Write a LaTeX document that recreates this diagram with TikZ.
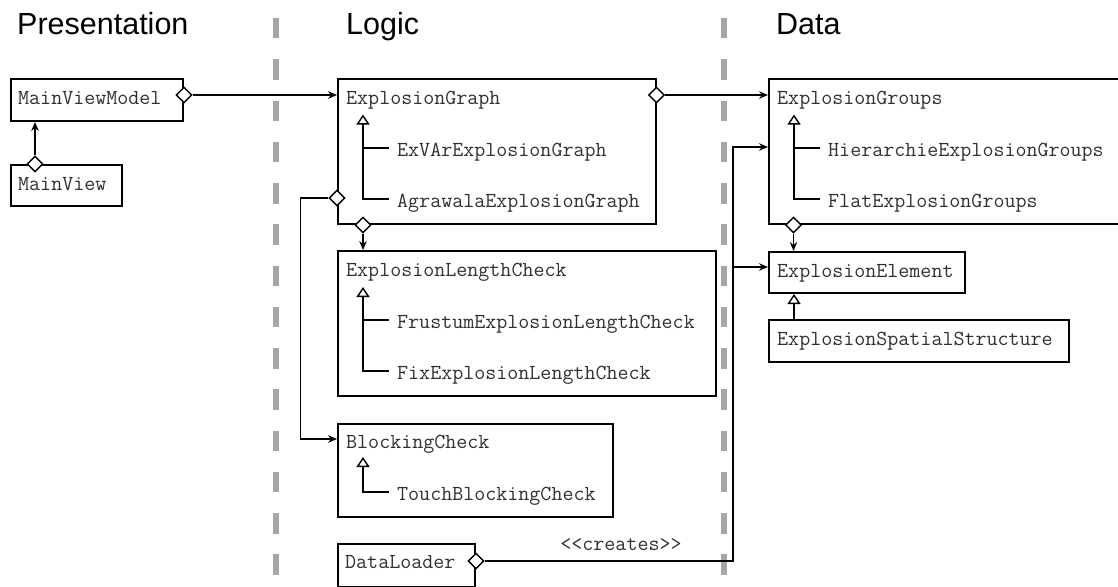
\documentclass[tikz,border=0pt]{standalone}
\usepackage{fontspec}
\setmainfont{Liberation Sans}
\usetikzlibrary{arrows.meta,shapes.geometric,calc}
\definecolor{laneGray}{HTML}{A6A6A6}
\definecolor{codeInk}{HTML}{303030}

\begin{document}
\begin{tikzpicture}[x=1pt,y=-1pt,
  box/.style={draw,line width=2pt,inner sep=0pt,anchor=north west},
  cls/.style={font=\fontsize{21.4}{24}\selectfont\ttfamily,text=codeInk,inner sep=0pt,anchor=base west},
  heading/.style={font=\fontsize{30.5}{36}\selectfont,inner sep=0pt,anchor=base west},
  agg/.style={draw,diamond,fill=white,line width=1.4pt,minimum size=16pt,inner sep=0pt},
  assoc/.style={line width=1.4pt,-{Stealth[length=9pt,width=7.5pt,inset=3pt]}},
  link/.style={line width=1.4pt},
  inherit/.style={line width=1.4pt,-{Triangle[open,length=10pt,width=13pt,line width=1.4pt]}},
  lane/.style={line width=6pt,draw=laneGray,dash pattern=on 20.5pt off 20.75pt}
]
\useasboundingbox (0,0) rectangle (1118,586);

% layer separators
\draw[lane] (276,18) -- (276,586);
\draw[lane] (724,18) -- (724,586);

% headings
\node[heading] (tPres) at (17,35) {Presentation};
\node[heading] (tLogic) at (346,35) {Logic};
\node[heading] (tData) at (776,35) {Data};

% class boxes
\node[box,minimum width=172.5,minimum height=42.5] (mvm) at (9.5,77.5) {};
\node[box,minimum width=111.5,minimum height=41] (mv) at (9.5,164) {};
\node[box,minimum width=317.5,minimum height=145] (eg) at (337,78) {};
\node[box,minimum width=378,minimum height=145] (elc) at (337,250) {};
\node[box,minimum width=275,minimum height=93] (bc) at (337,423) {};
\node[box,minimum width=137,minimum height=43] (dl) at (337,543) {};
\node[box,minimum width=360,minimum height=145] (egr) at (768,78) {};
\node[box,minimum width=196,minimum height=41] (ee) at (768,251) {};
\node[box,minimum width=300,minimum height=42] (ess) at (768,319) {};

% class names
\node[cls] (tMvm) at (18,104) {MainViewModel};
\node[cls] (tMv) at (18,190) {MainView};
\node[cls] (tEg) at (346,104) {ExplosionGraph};
\node[cls] (exvar) at (397,156) {ExVArExplosionGraph};
\node[cls] (agra) at (397,207) {AgrawalaExplosionGraph};
\node[cls] (tElc) at (346,276) {ExplosionLengthCheck};
\node[cls] (frus) at (397,328) {FrustumExplosionLengthCheck};
\node[cls] (fix) at (397,379) {FixExplosionLengthCheck};
\node[cls] (tBc) at (346,448) {BlockingCheck};
\node[cls] (touch) at (397,500) {TouchBlockingCheck};
\node[cls] (tDl) at (345,568) {DataLoader};
\node[cls] (tEgr) at (777,104) {ExplosionGroups};
\node[cls] (hier) at (828,156) {HierarchieExplosionGroups};
\node[cls] (flat) at (828,207) {FlatExplosionGroups};
\node[cls] (tEe) at (777,277) {ExplosionElement};
\node[cls] (tEss) at (777,345) {ExplosionSpatialStructure};

% generalisations inside the boxes
\draw[link] ($(exvar.base west)+(-8,-8)$) -- ++(-26,0);
\draw[inherit] ($(agra.base west)+(-8,-8)$) -| ($(eg.north west)+(26,36.5)$);
\draw[link] ($(frus.base west)+(-8,-8)$) -- ++(-26,0);
\draw[inherit] ($(fix.base west)+(-8,-8)$) -| ($(elc.north west)+(26,37)$);
\draw[inherit] ($(touch.base west)+(-8,-8)$) -| ($(bc.north west)+(26,34)$);
\draw[link] ($(hier.base west)+(-8,-8)$) -- ++(-26,0);
\draw[inherit] ($(flat.base west)+(-8,-8)$) -| ($(egr.north west)+(26,36.5)$);
\draw[inherit] ($(ess.north west)+(26,0)$) -- ($(ee.south west)+(26,0)$);

% aggregations
\node[agg] (a1) at ($(mvm.north east)+(0,17.5)$) {};
\draw[assoc] (a1.east) -- (a1.east -| eg.west);

\node[agg] (a2) at ($(mv.north west)+(25.5,0)$) {};
\draw[assoc] (a2.north) -- (a2.north |- mvm.south);

\node[agg] (a3) at ($(eg.north east)+(0,17)$) {};
\draw[assoc] (a3.east) -- (a3.east -| egr.west);

\coordinate (bcIn) at ($(bc.north west)+(0,16)$);
\node[agg] (a4) at ($(eg.north west)+(0,120)$) {};
\draw[assoc] (a4.west) -- ++(-28,0) |- (bcIn);

\node[agg] (a5) at ($(eg.south west)+(26,0)$) {};
\draw[assoc] (a5.south) -- (a5.south |- elc.north);

\node[agg] (a6) at ($(egr.south west)+(25.5,0)$) {};
\draw[assoc] (a6.south) -- (a6.south |- ee.north);

% DataLoader creates the data objects
\coordinate (grpIn) at ($(egr.north west)+(0,69)$);
\coordinate (elemIn) at ($(ee.north west)+(0,16)$);
\node[agg] (a7) at ($(dl.north east)+(0,18)$) {};
\draw[assoc] (a7.east) -| ($(grpIn)+(-35,0)$) -- (grpIn);
\draw[assoc] ($(elemIn)+(-35,0)$) -- (elemIn);
\node[cls,anchor=base] (creates) at (621,550) {<\kern0pt<creates>\kern0pt>};
\end{tikzpicture}
\end{document}
